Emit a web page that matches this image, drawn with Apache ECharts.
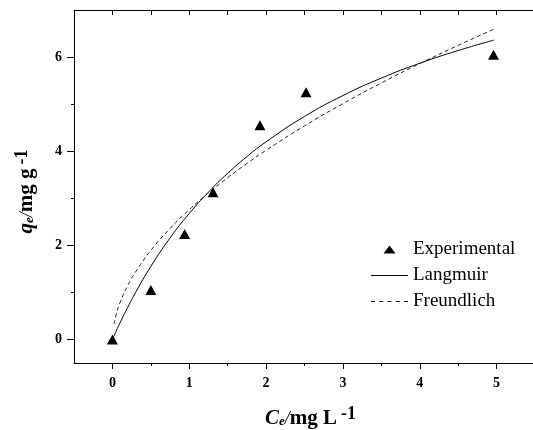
<!DOCTYPE html>
<html>
<head>
<meta charset="utf-8">
<script src="https://cdn.jsdelivr.net/npm/echarts@6/dist/echarts.min.js"></script>
<style>html,body{margin:0;padding:0;background:#fff}#c{width:533px;height:430px}</style>
</head>
<body>
<div id="c"></div>
<script>
// Experimental points
var ceExp = [0, 0.50, 0.94, 1.31, 1.92, 2.52, 4.96];
var qeExp = [0, 1.05, 2.24, 3.13, 4.55, 5.25, 6.05];
// Langmuir fit curve
var langC = [0, 0.05, 0.1, 0.2, 0.3, 0.5, 0.75, 1, 1.25, 1.5, 1.75, 2, 2.5, 3, 3.5, 4, 4.5, 4.97];
var langQ = [0, 0.181, 0.356, 0.686, 0.994, 1.552, 2.156, 2.677, 3.130, 3.530, 3.884, 4.199, 4.738, 5.182, 5.553, 5.868, 6.139, 6.362];
// Freundlich fit curve
var freuC = [0.02, 0.05, 0.1, 0.2, 0.3, 0.5, 0.75, 1, 1.25, 1.5, 1.75, 2, 2.5, 3, 3.5, 4, 4.5, 4.97];
var freuQ = [0.328, 0.540, 0.788, 1.149, 1.432, 1.891, 2.358, 2.757, 3.113, 3.437, 3.738, 4.019, 4.538, 5.011, 5.450, 5.861, 6.249, 6.596];
// Ticks
var xMajor = [0, 1, 2, 3, 4, 5];
var xMinor = [0.5, 1.5, 2.5, 3.5, 4.5];
var yMajor = [0, 2, 4, 6];
var yMinor = [1, 3, 5];

function zip(a, b) { return a.map(function (v, i) { return [v, b[i]]; }); }

var FONT = '"Liberation Serif", "Times New Roman", serif';
var lineBlack = { onZero: false, lineStyle: { color: '#000', width: 1 } };
var labelStyle = { fontFamily: FONT, fontWeight: 'bold', fontSize: 14, color: '#000' };
function nameRich() {
  return {
    c: { fontFamily: FONT, fontWeight: 'bold', fontStyle: 'italic', fontSize: 21, color: '#000' },
    e: { fontFamily: FONT, fontStyle: 'italic', fontWeight: 'bold', fontSize: 13, color: '#000', padding: [5, 0, 0, 0] },
    s: { fontFamily: FONT, fontStyle: 'italic', fontSize: 18, color: '#000' },
    b: { fontFamily: FONT, fontWeight: 'bold', fontSize: 21, color: '#000' },
    sup: { fontFamily: FONT, fontWeight: 'bold', fontSize: 18, color: '#000', padding: [0, 0, 10, 4] }
  };
}
var lineIcon = 'path://M0,0h37v1h-37z';
var dashIcon = 'path://M0,0h4v1h-4zM8.25,0h4v1h-4zM16.5,0h4v1h-4zM24.75,0h4v1h-4zM33,0h4v1h-4z';
var triIcon = 'path://M6,0L12,8L0,8Z';

var chart = echarts.init(document.getElementById('c'));
chart.setOption({
  animation: false,
  backgroundColor: '#fff',
  grid: { left: 74, top: 10, width: 461, height: 353, outerBoundsMode: 'none', containLabel: false },
  legend: {
    orient: 'vertical', left: 366, top: 235, itemWidth: 37, itemHeight: 8, itemGap: 7,
    textStyle: { fontFamily: FONT, fontSize: 19, color: '#000' },
    data: [
      { name: 'Experimental', icon: triIcon, itemStyle: { color: '#000', borderWidth: 0 } },
      { name: 'Langmuir', icon: lineIcon, itemStyle: { color: '#000', borderWidth: 0 } },
      { name: 'Freundlich', icon: dashIcon, itemStyle: { color: '#000', borderWidth: 0 } }
    ]
  },
  xAxis: [
    {
      type: 'value', position: 'bottom', min: -0.5, max: 5.5,
      axisLine: lineBlack, splitLine: { show: false },
      axisTick: { customValues: xMajor, length: 6, lineStyle: { color: '#000' } },
      axisLabel: Object.assign({ customValues: xMajor, margin: 13 }, labelStyle),
      name: '{c|C}{e|e}{s|/}{b|mg L}{sup|-1}', nameLocation: 'middle', nameGap: 42,
      nameTextStyle: { padding: [0, 0, 0, 12], rich: nameRich() }
    },
    {
      type: 'value', position: 'bottom', min: -0.5, max: 5.5,
      axisLine: { show: false, onZero: false }, splitLine: { show: false },
      axisTick: { customValues: xMinor, length: 3, lineStyle: { color: '#000' } },
      axisLabel: { show: false }
    },
    {
      type: 'value', position: 'top', min: -0.5, max: 5.5,
      axisLine: lineBlack, splitLine: { show: false },
      axisTick: { customValues: xMajor.concat(xMinor), inside: true, length: 5, lineStyle: { color: '#000' } },
      axisLabel: { show: false }
    }
  ],
  yAxis: [
    {
      type: 'value', position: 'left', min: -0.5, max: 7,
      axisLine: lineBlack, splitLine: { show: false },
      axisTick: { customValues: yMajor, length: 7, lineStyle: { color: '#000' } },
      axisLabel: Object.assign({ customValues: yMajor, margin: 12 }, labelStyle),
      name: '{c|q}{e|e}{s|/}{b|mg g}{sup|-1}', nameLocation: 'middle', nameGap: 33,
      nameTextStyle: { padding: [0, 10, 0, 0], rich: nameRich() }
    },
    {
      type: 'value', position: 'left', min: -0.5, max: 7,
      axisLine: { show: false, onZero: false }, splitLine: { show: false },
      axisTick: { customValues: yMinor, length: 3, lineStyle: { color: '#000' } },
      axisLabel: { show: false }
    }
  ],
  series: [
    {
      name: 'Experimental', type: 'scatter', symbol: 'triangle', symbolSize: [11, 10],
      itemStyle: { color: '#000', opacity: 1 }, data: zip(ceExp, qeExp), z: 5
    },
    {
      name: 'Langmuir', type: 'line', smooth: true, showSymbol: false, symbol: 'none',
      lineStyle: { color: '#000', width: 1 }, itemStyle: { color: '#000' }, data: zip(langC, langQ)
    },
    {
      name: 'Freundlich', type: 'line', smooth: true, showSymbol: false, symbol: 'none',
      lineStyle: { color: '#222', width: 1, type: [4, 3] }, itemStyle: { color: '#222' }, data: zip(freuC, freuQ)
    }
  ]
});
</script>
</body>
</html>
